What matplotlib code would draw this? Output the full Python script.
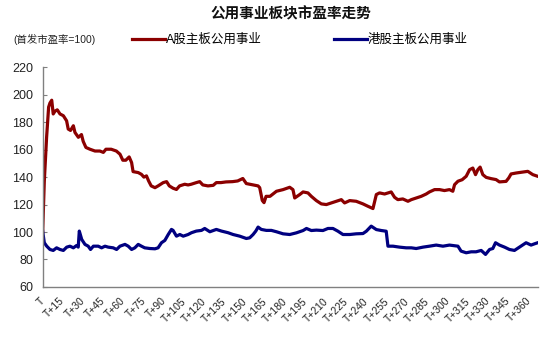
import matplotlib
matplotlib.use("Agg")
import matplotlib.pyplot as plt

plt.rcParams['font.family'] = ['Liberation Sans', 'Noto Sans CJK SC', 'DejaVu Sans']

title = "公用事业板块市盈率走势"
unit_note = "(首发市盈率=100)"
series_a_name = "A股主板公用事业"
series_h_name = "港股主板公用事业"

a_days = [0, 1.2, 2.9, 4.4, 5.4, 6.7, 7.8, 9.1, 10.8, 12.8, 15.3, 17.7, 18.9, 20.6, 22.7, 23.9, 26.4, 28.7,
          30.0, 32.0, 35.0, 38.7, 42.3, 44.9, 46.8, 50.7, 54.5, 57.2, 59.3, 61.5, 64.0, 65.8, 66.9, 70.7,
          73.1, 74.9, 76.8, 78.4, 80.3, 83.1, 85.4, 89.2, 91.7, 93.7, 96.5, 99.0, 101.3, 105.1, 107.6,
          109.9, 113.7, 116.2, 118.5, 122.3, 126.2, 128.5, 131.9, 135.7, 140.5, 144.3, 148.1, 150.7,
          155.8, 159.4, 160.6, 162.5, 163.8, 165.3, 168.2, 173.0, 177.9, 182.8, 185.2, 186.5, 190.2,
          192.7, 196.3, 198.8, 202.5, 206.2, 209.9, 213.6, 217.3, 221.0, 223.4, 227.2, 232.0, 237.0,
          240.6, 244.4, 246.9, 249.3, 253.0, 257.9, 260.4, 262.8, 266.5, 270.3, 272.8, 276.4, 280.1,
          283.8, 286.2, 290.0, 293.7, 297.3, 301.0, 303.5, 304.8, 307.3, 310.4, 313.4, 315.9, 318.3,
          320.3, 322.0, 323.7, 325.7, 328.2, 331.8, 335.5, 338.0, 342.9, 344.9, 346.6, 350.4, 355.2,
          359.0, 362.7, 366.3]
a_vals = [100, 137, 169, 191, 194, 196, 186, 188, 189, 186, 184.7, 181, 175, 174, 177.4, 172.5, 169, 171,
          166, 161.6, 160.3, 159, 159, 158, 160.3, 160.3, 159, 156.7, 152.3, 152.3, 154.7, 150.6, 144, 143.3,
          142, 140, 140.9, 137.2, 133.6, 132.3, 133.6, 136, 136.7, 133.6, 131.9, 131, 133.6, 134.8, 134.3,
          134.8, 136, 136.7, 134.3, 133.6, 134, 136, 136, 136.5, 136.7, 137.2, 139, 135.3,
          134.3, 133.6, 132.3, 123, 121.4, 126, 126, 129.7, 130.9, 132.6, 130.9, 124.8, 127.3,
          129.2, 128.5, 126, 122.9, 120.5, 120, 121.2, 122.4, 123.6, 121.2, 122.9, 122.4, 120.5,
          118.8, 117.1, 127.3, 128.5, 127.7, 129.2, 125.3, 123.6, 124.1, 122.4, 123.6, 124.8, 126,
          127.7, 129.2, 130.9, 130.9, 130.2, 130.9, 129.7, 134.5, 137, 138.1, 140.6, 145.4, 146.6,
          141.8, 145.4, 147.3, 141.8, 139.8, 138.9, 138.2, 136.5, 136.9, 139.4, 142.3, 143, 143.7,
          144.2, 141.8, 140.6]

h_days = [0, 1.2, 3.0, 5.4, 7.8, 10.3, 12.8, 15.3, 17.8, 20.2, 22.7, 25.1, 26.3, 27.1, 28.9, 31.3, 33.7,
          35.4, 37.5, 41.1, 43.6, 46.1, 48.5, 52.2, 54.7, 57.2, 60.9, 63.3, 65.8, 68.2, 70.7, 73.1, 75.5,
          79.3, 83.1, 85.4, 87.9, 90.4, 92.9, 95.3, 96.5, 99.0, 101.5, 104.0, 107.6, 110.1, 113.7, 117.5,
          119.9, 123.7, 128.5, 132.3, 137.2, 140.9, 145.8, 150.7, 153.2, 155.7, 157.7, 159.4, 161.8,
          165.5, 169.2, 173.0, 177.9, 182.8, 187.7, 192.7, 195.2, 198.8, 202.5, 207.4, 211.1, 214.8,
          218.5, 222.2, 227.2, 232.0, 237.0, 239.5, 243.1, 246.9, 250.6, 254.2, 255.5, 259.2, 264.1,
          269.0, 272.8, 276.4, 281.4, 286.2, 291.2, 296.2, 301.0, 307.3, 309.6, 313.4, 317.1, 320.7,
          324.5, 327.7, 330.7, 333.1, 335.1, 338.0, 341.8, 345.4, 349.1, 352.8, 357.7, 361.4, 363.9, 366.3]
h_vals = [100.7, 92.2, 89.7, 87.3, 86.6, 88.5, 87.3, 86.6, 89, 89.7, 88.5, 90.2, 89, 100.7, 94.6, 91, 89.7,
          87.3, 89.7, 89.7, 88.5, 89.7, 89, 88.5, 87.3, 89.7, 91, 89.7, 87.3, 88.5, 91, 89.7, 88.5,
          88, 87.8, 88.5, 92.2, 93.9, 98.2, 101.9, 101.2, 97, 98.2, 97, 98.2, 99.5, 100.7, 101.2,
          102.6, 100.2, 101.9, 100.7, 99.5, 98.2, 97, 95.3, 95.8, 98.2, 100.7, 103.6, 101.9,
          101.2, 101.2, 100.2, 98.7, 98.2, 99.4, 101.1, 102.6, 101.1, 101.4, 101.1, 102.6, 102.6,
          100.6, 98.2, 98.2, 98.7, 98.9, 100.6, 104.3, 101.8, 101.1, 100.6, 89.7, 89.7, 89,
          88.5, 88.5, 88, 89, 89.7, 90.5, 89.7, 90.5, 89.7, 86.1, 84.9, 85.6, 85.6,
          86.6, 83.7, 87.3, 88, 92.2, 90.5, 89, 87.3, 86.6, 89, 92.2, 90.5, 91.4, 92.2]

tick_days = list(range(0, 361, 15))
tick_labels = ["T"] + ["T+%d" % d for d in tick_days[1:]]
y_ticks = list(range(60, 221, 20))

fig = plt.figure(figsize=(5.5, 3.38), dpi=100)
ax = fig.add_axes([0.0776, 0.151, 0.9005, 0.650])

ax.plot(a_days, a_vals, color="#8B0000", lw=2.3, solid_joinstyle="round", label=series_a_name)
ax.plot(h_days, h_vals, color="#000080", lw=2.3, solid_joinstyle="round", label=series_h_name)

ax.set_xlim(0, 366.5)
ax.set_ylim(60, 220)
ax.set_yticks(y_ticks)
ax.set_xticks(tick_days)
ax.set_xticklabels(tick_labels, rotation=45, ha="right", va="center", rotation_mode="anchor", fontsize=7.5)
ax.tick_params(axis="x", length=0, pad=9, labelcolor="#222222")
ax.tick_params(axis="y", direction="in", length=3, color="#808080", labelsize=9, pad=7, labelcolor="#222222")
for s in ["top", "right"]:
    ax.spines[s].set_visible(False)
for s in ["left", "bottom"]:
    ax.spines[s].set_color("#808080")
    ax.spines[s].set_linewidth(1.0)

fig.text(0.529, 0.958, title, ha="center", va="center", fontsize=10.5, fontweight="bold", color="#111111")
fig.text(0.024, 0.882, unit_note, ha="left", va="center", fontsize=7.5, color="#222222")

leg = fig.legend(handles=ax.get_lines(), loc="center left", bbox_to_anchor=(0.24, 0.882),
                 ncol=2, frameon=False, fontsize=9, handlelength=2.65, handletextpad=0.1,
                 columnspacing=5.7, borderaxespad=0, borderpad=0)

fig.savefig("out.png", dpi=100)
